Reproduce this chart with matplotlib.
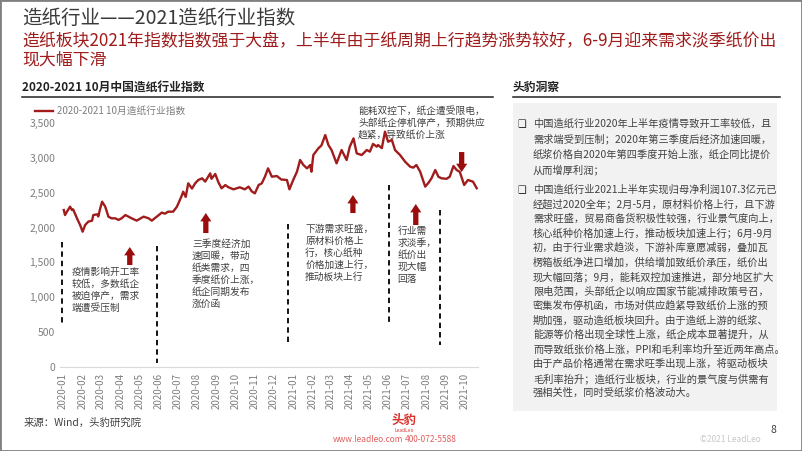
import matplotlib
matplotlib.use("Agg")
import matplotlib.pyplot as plt
import matplotlib.dates as mdates
from matplotlib.patches import Rectangle
from matplotlib.lines import Line2D
import pandas as pd

plt.rcParams['font.family'] = ['Noto Sans CJK SC', 'DejaVu Sans']

# ---------------- data ----------------
dates = ["2020-01-02", "2020-01-04", "2020-01-07", "2020-01-12", "2020-01-15", "2020-01-17",
         "2020-01-23", "2020-01-28", "2020-02-01", "2020-02-05", "2020-02-10", "2020-02-16",
         "2020-02-18", "2020-02-24", "2020-02-26", "2020-02-29", "2020-03-03", "2020-03-08",
         "2020-03-13", "2020-03-18", "2020-03-24", "2020-03-29", "2020-04-03", "2020-04-09",
         "2020-04-14", "2020-04-19", "2020-04-27", "2020-05-08", "2020-05-16", "2020-05-21",
         "2020-05-29", "2020-06-06", "2020-06-11", "2020-06-16", "2020-06-24", "2020-06-30",
         "2020-07-07", "2020-07-10", "2020-07-14", "2020-07-18", "2020-07-24", "2020-07-29",
         "2020-08-03", "2020-08-09", "2020-08-14", "2020-08-22", "2020-08-24", "2020-08-30",
         "2020-09-04", "2020-09-09", "2020-09-15", "2020-09-20", "2020-09-28", "2020-10-08",
         "2020-10-16", "2020-10-22", "2020-10-27", "2020-11-01", "2020-11-07", "2020-11-12",
         "2020-11-17", "2020-11-22", "2020-11-28", "2020-12-06", "2020-12-13", "2020-12-22",
         "2020-12-26", "2021-01-01", "2021-01-07", "2021-01-12", "2021-01-17", "2021-01-23",
         "2021-01-28", "2021-01-30", "2021-02-02", "2021-02-10", "2021-02-15", "2021-02-21",
         "2021-02-26", "2021-03-03", "2021-03-08", "2021-03-11", "2021-03-19", "2021-03-27",
         "2021-04-01", "2021-04-07", "2021-04-12", "2021-04-20", "2021-04-28", "2021-05-03",
         "2021-05-08", "2021-05-14", "2021-05-16", "2021-05-22", "2021-05-27", "2021-06-01",
         "2021-06-07", "2021-06-12", "2021-06-20", "2021-06-28", "2021-07-06", "2021-07-11",
         "2021-07-16", "2021-07-22", "2021-07-30", "2021-08-04", "2021-08-09", "2021-08-15",
         "2021-08-20", "2021-08-25", "2021-09-02", "2021-09-07", "2021-09-13", "2021-09-18",
         "2021-09-23", "2021-09-30", "2021-10-06", "2021-10-14", "2021-10-20"]
values = [2252, 2180, 2228, 2300, 2252, 2260,
          2133, 2037, 1941, 2037, 2085, 2100,
          2180, 2190, 2160, 2277, 2372, 2300,
          2157, 2133, 2133, 2110, 2133, 2180,
          2157, 2133, 2100, 2157, 2133, 2100,
          2157, 2215, 2200, 2228, 2228, 2300,
          2443, 2515, 2440, 2635, 2560, 2635,
          2683, 2707, 2660, 2778, 2700, 2769,
          2650, 2564, 2610, 2578, 2549, 2578,
          2549, 2588, 2520, 2491, 2611, 2635,
          2730, 2850, 2730, 2740, 2690, 2683,
          2549, 2683, 2802, 2970, 2900, 2850,
          2898, 2802, 3041, 3137, 3180, 3328,
          3185, 3113, 2993, 2922, 3113, 2970,
          3161, 3280, 3065, 3041, 3113, 3090,
          3200, 3161, 3185, 3140, 3376, 3232,
          3257, 3113, 3041, 2946, 2874, 2860,
          2898, 2802, 2588, 2640, 2707, 2826,
          2730, 2707, 2700, 2730, 2883, 2826,
          2800, 2611, 2683, 2659, 2564]
series_name = "2020-2021 10月造纸行业指数"
yticks = [0, 500, 1000, 1500, 2000, 2500, 3000, 3500]

# annotation texts: (text, date, value at top)
notes = [
    ("疫情影响开工率\n较低，多数纸企\n被迫停产，需求\n端遭受压制", "2020-01-14", 1435),
    ("三季度经济加\n速回暖，带动\n纸类需求，四\n季度纸价上涨，\n纸企同期发布\n涨价函", "2020-07-24", 1836),
    ("下游需求旺盛，\n原材料价格上\n行，核心纸种\n价格加速上行，\n推动板块上行", "2021-01-20", 2051),
    ("行业需\n求淡季，\n纸价出\n现大幅\n回落", "2021-06-16", 2023),
    ("能耗双控下，纸企遭受限电，\n头部纸企停机停产，预期供应\n趋紧，导致纸价上涨", "2021-04-14", 3744),
]
# dashed separators: (date, y_top, y_bottom)
separators = [("2019-12-30", 1793, 588), ("2020-05-29", 1736, 57), ("2020-12-24", 2051, 359),
              ("2021-06-02", 2611, 646), ("2021-08-22", 2252, 316)]
# arrows: (date, from, to)
arrows = [("2020-04-16", 1463, 1721), ("2020-08-15", 1922, 2209), ("2021-04-06", 2209, 2467),
          ("2021-07-15", 2037, 2338), ("2021-09-26", 3084, 2797)]

title = "造纸行业——2021造纸行业指数"
subtitle1 = "造纸板块2021年指数指数强于大盘，上半年由于纸周期上行趋势涨势较好，6-9月迎来需求淡季纸价出"
subtitle2 = "现大幅下滑"
chart_title = "2020-2021 10月中国造纸行业指数"
panel_title = "头豹洞察"
bullet1 = ["中国造纸行业2020年上半年疫情导致开工率较低，且",
           "需求端受到压制；2020年第三季度后经济加速回暖，",
           "纸浆价格自2020年第四季度开始上涨，纸企同比提价",
           "从而增厚利润；"]
bullet2 = ["中国造纸行业2021上半年实现归母净利润107.3亿元已",
           "经超过2020全年；2月-5月，原材料价格上行，且下游",
           "需求旺盛，贸易商备货积极性较强，行业景气度向上，",
           "核心纸种价格加速上行，推动板块加速上行；6月-9月",
           "初，由于行业需求趋淡，下游补库意愿减弱，叠加瓦",
           "楞箱板纸净进口增加，供给增加致纸价承压，纸价出",
           "现大幅回落；9月，能耗双控加速推进，部分地区扩大",
           "限电范围，头部纸企以响应国家节能减排政策号召，",
           "密集发布停机函，市场对供应趋紧导致纸价上涨的预",
           "期加强，驱动造纸板块回升。由于造纸上游的纸浆、",
           "能源等价格出现全球性上涨，纸企成本显著提升，从",
           "而导致纸张价格上涨，PPI和毛利率均升至近两年高点。",
           "由于产品价格通常在需求旺季出现上涨，将驱动板块",
           "毛利率抬升；造纸行业板块，行业的景气度与供需有",
           "强相关性，同时受纸浆价格波动大。"]
source = "来源：Wind，头豹研究院"

# ---------------- figure ----------------
W, H = 802, 451
fig = plt.figure(figsize=(W / 100, H / 100), dpi=100)
fig.patch.set_facecolor("white")


def P(x, y):
    return (x / W, 1 - y / H)


RED = "#a11c1c"
DARK = "#404040"
GRAY = "#7f7f7f"

# axes
ax_left, ax_right, ax_bottom, ax_top = 60, 478, 367, 109.1
ax = fig.add_axes([ax_left / W, 1 - ax_bottom / H, (ax_right - ax_left) / W, (ax_bottom - ax_top) / H])
ax.set_facecolor("none")
d = pd.to_datetime(dates)
line, = ax.plot(d, values, color=RED, lw=1.7, label=series_name, solid_joinstyle="round")
ax.set_xlim(pd.Timestamp("2019-12-27"), pd.Timestamp("2021-10-22"))
ax.set_ylim(0, 3700)
ax.set_yticks(yticks)
ax.set_yticklabels([f"{v:,}" for v in yticks])
ax.xaxis.set_major_locator(mdates.MonthLocator())
ax.xaxis.set_major_formatter(mdates.DateFormatter("%Y-%m"))
for lab in ax.get_xticklabels():
    lab.set_rotation(90)
ax.tick_params(axis="x", length=0, pad=4, labelsize=7, labelcolor=GRAY)
ax.tick_params(axis="y", length=0, pad=3.5, labelsize=7.5, labelcolor=GRAY)
for s in ["top", "right", "left"]:
    ax.spines[s].set_visible(False)
ax.spines["bottom"].set_color("#d9d9d9")
ax.spines["bottom"].set_linewidth(0.8)

# separators
for dt, y1, y2 in separators:
    ax.plot([pd.Timestamp(dt)] * 2, [y1, y2], color="black", lw=1.3,
            linestyle=(0, (3, 2.2)), clip_on=False)
# arrows
for dt, y1, y2 in arrows:
    t = pd.Timestamp(dt)
    ax.annotate("", xy=(t, y2), xytext=(t, y1), annotation_clip=False,
                arrowprops=dict(arrowstyle="simple,head_length=0.6,head_width=0.8,tail_width=0.38",
                                mutation_scale=10, color="#9b0d0d", shrinkA=0, shrinkB=0, lw=0))
# notes
for txt, dt, y in notes:
    ax.text(pd.Timestamp(dt), y, txt, ha="left", va="top", fontsize=7, color=DARK,
            linespacing=1.25, clip_on=False)

# legend
fig.legend(handles=[line], loc="center left", bbox_to_anchor=P(35, 111), frameon=False,
           fontsize=7, labelcolor=GRAY, handlelength=1.9, handletextpad=0.4,
           borderpad=0, borderaxespad=0)

# titles
fig.text(*P(22, 18), title, fontsize=14, color="#3a3a3a", va="center", ha="left")
fig.text(*P(22, 41), subtitle1, fontsize=12.2, color="#a01c1c", va="center", ha="left")
fig.text(*P(22, 59), subtitle2, fontsize=12.2, color="#a01c1c", va="center", ha="left")
fig.text(*P(22, 87), chart_title, fontsize=8.5, fontweight="bold", color="#222222", va="center")
fig.add_artist(Line2D([22 / W, 493 / W], [1 - 97 / H] * 2, color="#222222", lw=1.1))
fig.text(*P(513, 87), panel_title, fontsize=8.5, fontweight="bold", color="#222222", va="center")
fig.add_artist(Line2D([513 / W, 780 / W], [1 - 97 / H] * 2, color="#222222", lw=1.1))

# right panel
fig.add_artist(Rectangle(P(513, 411), 264 / W, 308 / H, transform=fig.transFigure,
                         facecolor="#f2f2f2", edgecolor="none", zorder=0))
for i, ln in enumerate(bullet1):
    fig.text(*P(533, 124 + 15.2 * i), ln, fontsize=7.35, color=DARK, va="center")
fig.text(*P(522, 124), "❑", fontsize=7, color="#222222", va="center", ha="center",
         family=["DejaVu Sans"])
for i, ln in enumerate(bullet2):
    fig.text(*P(533, 190 + 14.5 * i), ln, fontsize=7.35, color=DARK, va="center")
fig.text(*P(522, 190), "❑", fontsize=7, color="#222222", va="center", ha="center",
         family=["DejaVu Sans"])

# footer
fig.text(*P(24, 423), source, fontsize=7.5, color=DARK, va="center")
fig.text(*P(404, 420), "头豹", fontsize=9, fontweight="bold", color="#d9312b", va="center", ha="center")
fig.text(*P(404, 430), "LeadLeo", fontsize=3.5, fontstyle="italic", color="#d9312b", va="center", ha="center")
fig.text(*P(333, 440), "www.leadleo.com", fontsize=6, color="#e06060", va="center")
fig.text(*P(405, 440), "400-072-5588", fontsize=6, color="#e06060", va="center")
fig.text(*P(773, 430), "8", fontsize=7.5, color=DARK, va="center", ha="center")
fig.text(*P(730, 439), "©2021 LeadLeo", fontsize=6, color="#c8c8c8", va="center", ha="center")

# slide frame
fig.add_artist(Rectangle((0, 0), 1, 1, transform=fig.transFigure, facecolor="none",
                         edgecolor="#808080", lw=2))

fig.savefig("out.png", dpi=100)
